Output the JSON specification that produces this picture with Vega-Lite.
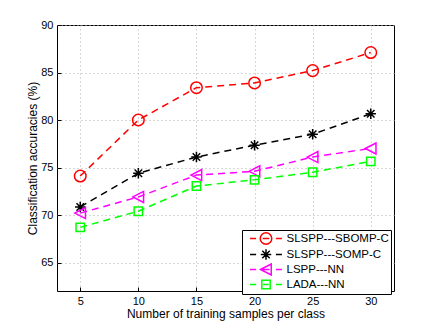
{
  "$schema": "https://vega.github.io/schema/vega-lite/v6.json",
  "width": 337,
  "height": 266,
  "autosize": {"type": "none"},
  "padding": {"left": 57, "top": 25, "right": 41, "bottom": 36},
  "background": "white",
  "config": {
    "font": "Liberation Sans",
    "view": {"stroke": "black", "strokeWidth": 1},
    "axis": {
      "domain": false,
      "grid": true,
      "gridColor": "#b0b0b0",
      "gridDash": [1, 3],
      "gridWidth": 1,
      "ticks": true,
      "tickSize": -4,
      "tickColor": "black",
      "labelFontSize": 11,
      "labelColor": "black",
      "labelPadding": 8,
      "titleFontSize": 12,
      "titleFontWeight": "normal",
      "titleColor": "black"
    }
  },
  "data": {
    "values": [
      {"x": 5, "series": "SLSPP---SBOMP-C", "acc": 74.1},
      {"x": 10, "series": "SLSPP---SBOMP-C", "acc": 80.0},
      {"x": 15, "series": "SLSPP---SBOMP-C", "acc": 83.4},
      {"x": 20, "series": "SLSPP---SBOMP-C", "acc": 83.9},
      {"x": 25, "series": "SLSPP---SBOMP-C", "acc": 85.2},
      {"x": 30, "series": "SLSPP---SBOMP-C", "acc": 87.1},
      {"x": 5, "series": "SLSPP---SOMP-C", "acc": 70.85},
      {"x": 10, "series": "SLSPP---SOMP-C", "acc": 74.4},
      {"x": 15, "series": "SLSPP---SOMP-C", "acc": 76.1},
      {"x": 20, "series": "SLSPP---SOMP-C", "acc": 77.35},
      {"x": 25, "series": "SLSPP---SOMP-C", "acc": 78.5},
      {"x": 30, "series": "SLSPP---SOMP-C", "acc": 80.65},
      {"x": 5, "series": "LSPP---NN", "acc": 70.2},
      {"x": 10, "series": "LSPP---NN", "acc": 71.9},
      {"x": 15, "series": "LSPP---NN", "acc": 74.2},
      {"x": 20, "series": "LSPP---NN", "acc": 74.6},
      {"x": 25, "series": "LSPP---NN", "acc": 76.1},
      {"x": 30, "series": "LSPP---NN", "acc": 77.0},
      {"x": 5, "series": "LADA---NN", "acc": 68.7},
      {"x": 10, "series": "LADA---NN", "acc": 70.4},
      {"x": 15, "series": "LADA---NN", "acc": 73.05},
      {"x": 20, "series": "LADA---NN", "acc": 73.7},
      {"x": 25, "series": "LADA---NN", "acc": 74.5},
      {"x": 30, "series": "LADA---NN", "acc": 75.65}
    ]
  },
  "encoding": {
    "x": {
      "field": "x", "type": "quantitative",
      "scale": {"domain": [3, 32], "nice": false, "zero": false},
      "axis": {"values": [5, 10, 15, 20, 25, 30], "title": "Number of training samples per class", "titlePadding": 2}
    },
    "y": {
      "field": "acc", "type": "quantitative",
      "scale": {"domain": [62, 90], "nice": false, "zero": false},
      "axis": {"values": [65, 70, 75, 80, 85, 90], "title": "Classification accuracies (%)", "titlePadding": 1}
    }
  },
  "layer": [
    {
      "transform": [{"filter": "datum.series === 'SLSPP---SBOMP-C'"}],
      "mark": {"type": "line", "strokeDash": [7, 5], "strokeWidth": 1.5, "color": "#ff0000"},
      "encoding": {}
    },
    {
      "transform": [{"filter": "datum.series === 'SLSPP---SOMP-C'"}],
      "mark": {"type": "line", "strokeDash": [7, 5], "strokeWidth": 1.5, "color": "#000000"},
      "encoding": {}
    },
    {
      "transform": [{"filter": "datum.series === 'LSPP---NN'"}],
      "mark": {"type": "line", "strokeDash": [7, 5], "strokeWidth": 1.5, "color": "#ff00ff"},
      "encoding": {}
    },
    {
      "transform": [{"filter": "datum.series === 'LADA---NN'"}],
      "mark": {"type": "line", "strokeDash": [7, 5], "strokeWidth": 1.5, "color": "#00ff00"},
      "encoding": {}
    },
    {
      "transform": [{"filter": "datum.series === 'SLSPP---SBOMP-C'"}],
      "mark": {"type": "point", "filled": false, "size": 121, "strokeWidth": 1.5, "opacity": 1, "color": "#ff0000",
        "shape": "M-1.05,0A1.05,1.05,0,1,1,1.05,0A1.05,1.05,0,1,1,-1.05,0Z"},
      "encoding": {}
    },
    {
      "transform": [{"filter": "datum.series === 'SLSPP---SOMP-C'"}],
      "mark": {"type": "point", "filled": false, "size": 121, "strokeWidth": 1.5, "opacity": 1, "color": "#000000",
        "shape": "M-0.95,0H0.95M0,-0.95V0.95M-0.68,-0.68L0.68,0.68M-0.68,0.68L0.68,-0.68"},
      "encoding": {}
    },
    {
      "transform": [{"filter": "datum.series === 'LSPP---NN'"}],
      "mark": {"type": "point", "filled": false, "size": 121, "strokeWidth": 1.5, "opacity": 1, "color": "#ff00ff",
        "shape": "M-1,0L0.95,-1L0.95,1Z"},
      "encoding": {}
    },
    {
      "transform": [{"filter": "datum.series === 'LADA---NN'"}],
      "mark": {"type": "point", "filled": false, "size": 121, "strokeWidth": 1.5, "opacity": 1, "color": "#00ff00",
        "shape": "M-0.76,-0.76H0.76V0.76H-0.76Z"},
      "encoding": {}
    },
    {
      "mark": {"type": "point", "filled": false, "size": 121, "strokeWidth": 1.5, "opacity": 0},
      "encoding": {
        "color": {
          "field": "series", "type": "nominal",
          "scale": {"domain": ["SLSPP---SBOMP-C", "SLSPP---SOMP-C", "LSPP---NN", "LADA---NN"], "range": ["#ff0000", "#000000", "#ff00ff", "#00ff00"]},
          "legend": {
            "title": null, "orient": "none", "legendX": 185, "legendY": 205,
            "padding": 2, "fillColor": "white", "strokeColor": "black",
            "labelFontSize": 11.5, "labelColor": "black", "symbolSize": 121, "symbolStrokeWidth": 1.5,
            "symbolOpacity": 1, "symbolOffset": 15.5, "labelOffset": 14, "rowPadding": -5, "labelLimit": 300
          }
        },
        "shape": {
          "field": "series", "type": "nominal",
          "scale": {
            "domain": ["SLSPP---SBOMP-C", "SLSPP---SOMP-C", "LSPP---NN", "LADA---NN"],
            "range": [
              "M-2.9,0H-1.8M-1.05,0A1.05,1.05,0,1,1,1.05,0A1.05,1.05,0,1,1,-1.05,0M-0.6,0H0.6M1.8,0H2.9",
              "M-2.9,0H-1.8M-0.95,0H0.95M0,-0.95V0.95M-0.68,-0.68L0.68,0.68M-0.68,0.68L0.68,-0.68M1.8,0H2.9",
              "M-2.9,0H-1.8M-1,0L0.95,-1L0.95,1ZM-0.6,0H0.6M1.8,0H2.9",
              "M-2.9,0H-1.8M-0.76,-0.76H0.76V0.76H-0.76ZM-0.5,0H0.5M1.8,0H2.9"
            ]
          },
          "legend": {
            "title": null, "orient": "none", "legendX": 185, "legendY": 205,
            "padding": 2, "fillColor": "white", "strokeColor": "black",
            "labelFontSize": 11.5, "labelColor": "black", "symbolSize": 121, "symbolStrokeWidth": 1.5,
            "symbolOpacity": 1, "symbolOffset": 15.5, "labelOffset": 14, "rowPadding": -5, "labelLimit": 300
          }
        }
      }
    }
  ]
}
